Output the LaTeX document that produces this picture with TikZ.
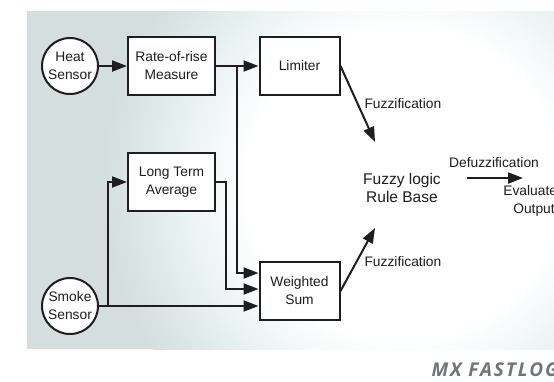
\documentclass[tikz,border=0pt]{standalone}
\usepackage{fontspec}
\setmainfont{Liberation Sans}
\newfontfamily\brandfont[LetterSpace=10]{Open Sans}
\usetikzlibrary{positioning,calc,arrows.meta}
\definecolor{panel}{HTML}{D5DEDF}
\definecolor{glowmid}{HTML}{E8F1F2}
\definecolor{ink}{HTML}{1E1E1E}
\definecolor{brandgrey}{HTML}{6E767C}
\pgfdeclareradialshading{glow}{\pgfpoint{0bp}{0bp}}{color(0bp)=(white); color(13bp)=(white); color(19bp)=(glowmid); color(25bp)=(panel); color(50bp)=(panel)}

\tikzset{
  sensor/.style={circle, draw=ink, line width=2pt, fill=white, minimum size=56pt, inner sep=0pt, align=center, text=ink},
  block/.style={rectangle, draw=ink, line width=2pt, fill=white, minimum width=87pt, minimum height=58pt, align=center, text=ink},
  narrow/.style={block, minimum width=80pt},
  arr/.style={draw=ink, line width=2pt, -{Triangle[length=15pt,width=11pt]}},
  lbl/.style={text=ink, align=center},
}

\begin{document}
\begin{tikzpicture}[x=1pt, y=-1pt, on grid, font=\fontsize{13.8}{18}\selectfont]
  \useasboundingbox (0,0) rectangle (554,381);
  \clip (0,0) rectangle (554,381);
  % panel with the white glow
  \fill[panel] (27,11) rectangle (560,349);
  \begin{scope}
    \clip (27,11) rectangle (560,349);
    \shade[shading=glow] (403,184) ellipse [x radius=300, y radius=300];
  \end{scope}

  \node[sensor] (heat) at (70,66) {Heat\\Sensor};
  \node[block] (rate) [right=101.5pt of heat] {Rate-of-rise\\Measure};
  \node[narrow] (limiter) [right=128pt of rate] {Limiter};
  \node[block] (avg) [below=116pt of rate] {Long Term\\Average};
  \node[sensor] (smoke) [below=240pt of heat] {Smoke\\Sensor};
  \node[narrow] (wsum) [below=225pt of limiter] {Weighted\\Sum};
  \node[lbl, font=\fontsize{15.5}{18.5}\selectfont] (rule) [below right=122pt and 102.5pt of limiter] {Fuzzy logic\\Rule Base};
  \node[lbl] (defuzz) [above right=25pt and 92pt of rule] {Defuzzification};
  \node[lbl] (eval) [below right=13pt and 132pt of rule] {Evaluated\\Output};
  \node[lbl, anchor=west] (fz1) at (361,104) {Fuzzification};
  \node[lbl, anchor=west] (fz2) at (361,262) {Fuzzification};

  \coordinate (b1) at ($(rate.east)!0.5!(limiter.west)$);
  \coordinate (b2) at ($(smoke.east)+(9,0)$);
  \coordinate (fin1) at ($(rule)+(-27,-46)$);
  \coordinate (fin2) at ($(rule)+(-27,40)$);
  \coordinate (d1) at ($(rule)+(65,-10)$);
  \coordinate (d2) at ($(rule)+(121,-10)$);

  \draw[arr] (heat) -- (rate);
  \draw[arr] (rate) -- (limiter);
  \draw[arr] (b1) |- ([yshift=18pt]wsum.west);
  \draw[arr] (avg.east) -- ++(10,0) |- ([yshift=2pt]wsum.west);
  \draw[arr] (smoke.east) -- (smoke.east -| wsum.west);
  \draw[arr] (b2) |- (avg.west);
  \draw[arr] (limiter.east) -- (fin1);
  \draw[arr] (wsum.east) -- (fin2);
  \draw[arr] (d1) -- (d2);

  \node[anchor=base west, text=brandgrey, font=\brandfont\fontsize{19}{21}\selectfont\bfseries\itshape] (brand) at (428,376) {MX FASTLOG};
\end{tikzpicture}
\end{document}
